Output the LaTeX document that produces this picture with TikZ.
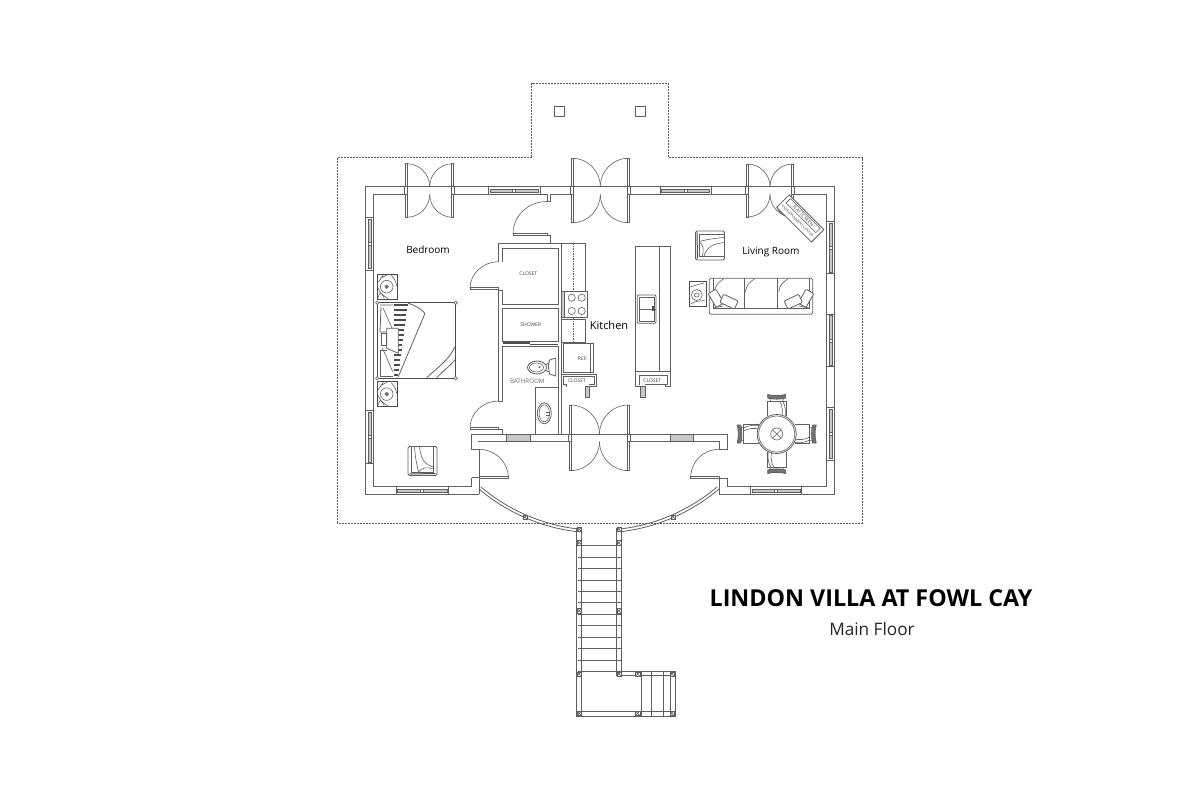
\documentclass[tikz,border=0pt]{standalone}
\usepackage{fontspec}
\setmainfont{Open Sans}
\usepackage{tikz}
\definecolor{wallGray}{RGB}{95,95,95}
\definecolor{glassGray}{RGB}{200,200,200}

\tikzset{
    plan/.style={draw=wallGray, line width=0.8pt},
    fine/.style={draw=wallGray, line width=0.6pt},
    heavy/.style={draw=black!70, line width=1.3pt},
    glass/.style={draw=wallGray, line width=0.6pt, fill=glassGray},
    terrace/.style={draw=wallGray, line width=0.8pt, dash pattern=on 2pt off 1pt},
    roomlabel/.style={font=\fontsize{10}{12}\selectfont, text=black, inner sep=0pt},
    tinylabel/.style={font=\fontsize{5}{6}\selectfont, text=black!75, inner sep=0pt},
    bathlabel/.style={font=\fontsize{6.2}{8}\selectfont, text=black!60, inner sep=0pt}
}

% leaf and swing, hinge at (x,y), r signed across the wall, s signed along it
\newcommand{\doorleaf}[4]{
    \draw[plan, fill=white] ({#1-0.9},#2) rectangle ({#1+0.9},{#2+#3});
    \draw[fine] (#1,{#2+#3}) .. controls ({#1+0.55*#4},{#2+#3}) and ({#1+#4},{#2+0.55*#3}) .. ({#1+#4},#2);
}
% pair of leaves on each side of a wall, from x1 to x2
\newcommand{\frenchdoor}[4]{
    \doorleaf{#1}{#3}{-#4}{(#2-#1)/2}
    \doorleaf{#2}{#3}{-#4}{(#1-#2)/2}
    \doorleaf{#1}{#3+7.6}{#4}{(#2-#1)/2}
    \doorleaf{#2}{#3+7.6}{#4}{(#1-#2)/2}
    \draw[plan] (#1,#3) -- (#2,#3);
    \draw[plan, fill=white] ({#1-2},#3) rectangle ({#1+0.9},{#3+7.6});
    \draw[plan, fill=white] ({#2-0.9},#3) rectangle ({#2+2},{#3+7.6});
}
\newcommand{\winH}[3]{
    \draw[plan, fill=white] (#1,#3) rectangle (#2,#3+7.6);
    \draw[glass] (#1+1.5,#3+2.2) rectangle (#2-1.5,#3+5.4);
    \draw[fine, fill=white] ({(#1+#2)/2-1.5},#3+2.2) rectangle ({(#1+#2)/2+1.5},#3+5.4);
}
\newcommand{\winV}[3]{
    \draw[plan, fill=white] (#1,#2) rectangle (#1+7.8,#3);
    \draw[glass] (#1+2.2,#2+1.5) rectangle (#1+5.6,#3-1.5);
    \draw[fine, fill=white] (#1+2.2,{(#2+#3)/2-1.5}) rectangle (#1+5.6,{(#2+#3)/2+1.5});
}
\newcommand{\railpost}[2]{
    \draw[fine, fill=white] (#1-2.2,#2-2.2) rectangle (#1+2.2,#2+2.2);
    \draw[fine] (#1-2.2,#2-2.2) -- (#1+2.2,#2+2.2) (#1-2.2,#2+2.2) -- (#1+2.2,#2-2.2);
}
\newcommand{\nightstand}[2]{
    \draw[heavy, line width=1pt] (#1,#2) rectangle (#1+20,#2+25);
    \draw[fine] (#1+9.4,#2+12.4) circle (6.3);
    \draw[fine, fill=black!50] (#1+9.4,#2+12.4) circle (1.8);
    \draw[fine] (#1+1,#2+23) .. controls (#1+3,#2+17) .. (#1+7,#2+24);
    \draw[fine] (#1+14,#2+1) .. controls (#1+18,#2+6) .. (#1+19.5,#2+12);
    \draw[fine] (#1+1,#2+14) .. controls (#1+3,#2+19) .. (#1+11,#2+24.5);
    \draw[fine] (#1+6,#2+0.5) -- (#1+1,#2+8) (#1+10,#2+0.5) -- (#1+3,#2+4);
}
\newcommand{\loungechair}[3]{
\begin{scope}[shift={(#1,#2)}, rotate=#3]
    \draw[plan, rounded corners=1.5pt] (-14.5,-14.5) rectangle (14.5,14.5);
    \draw[fine] (-11,-14.5) -- (-11,11) -- (11,11) -- (11,-14.5);
    \draw[fine] (-3,-14.5) .. controls (-2,-3) and (2,4) .. (11,6);
    \draw[fine] (-8,-14.5) .. controls (-7,0) and (-5,6) .. (-4,11);
    \draw[fine] (-4,11) .. controls (0,6) and (5,6) .. (11,8);
    \draw[heavy, line width=1pt] (-13,13) -- (13,12.5);
\end{scope}
}
\newcommand{\dinechair}[1]{
\begin{scope}[shift={(776.7,434)}, rotate=#1]
    \draw[plan] (-9.5,-18) -- (-9.5,-33) -- (9.5,-33) -- (9.5,-18);
    \draw[fine] (3,-33) .. controls (6,-28) and (6,-22) .. (5,-18);
    \draw[fine] (6,-33) .. controls (9,-28) and (9,-22) .. (8.5,-18);
    \draw[glass, line width=0.8pt, fill=black!55] (-9,-36) .. controls (-4,-34.5) and (4,-34.5) .. (9,-36) -- (9,-39.5) .. controls (4,-38) and (-4,-38) .. (-9,-39.5) -- cycle;
    \draw[fine] (-6,-33) -- (-7,-36) (6,-33) -- (7,-36);
\end{scope}
}

\begin{document}
\begin{tikzpicture}[x=1pt, y=-1pt]
\useasboundingbox (0,0) rectangle (1200,800);

% Terrace outline
\draw[terrace] (337.3,523.3) -- (337.3,157.7) -- (531.7,157.7) -- (531.7,83.3) -- (668.3,83.3) -- (668.3,157.7) -- (862.3,157.7) -- (862.3,523.3) -- cycle;
\draw[plan] (554.7,106) rectangle (564.7,116);
\draw[plan] (635.7,106) rectangle (645.7,116);

% Outer walls
\draw[plan] (479,494) -- (365.7,494) -- (365.7,186.7) -- (834,186.7) -- (834,494) -- (719,494);
\draw[plan] (471.7,477.7) -- (471.7,486.7) -- (373.7,486.7) -- (373.7,194.3) -- (405,194.3);
\draw[plan] (454,194.3) -- (547,194.3) -- (547,201.7) -- (550,201.7) -- (550,194.3) -- (571,194.3);
\draw[plan] (630,194.3) -- (746,194.3);
\draw[plan] (794,194.3) -- (826.7,194.3) -- (826.7,486.7) -- (727.3,486.7) -- (727.3,478.5) -- (719,478.5) -- (719,494);

% Porch walls
\draw[plan] (479,494) -- (479,449.3) -- (471.7,449.3) -- (471.7,434) -- (570,434);
\draw[plan] (471.7,477.7) -- (479,477.7);
\draw[plan] (478,441) -- (570,441);
\draw[plan] (630,434) -- (727.3,434) -- (727.3,449.3) -- (719,449.3) -- (719,441) -- (630,441);

% Interior walls
\draw[plan] (498.3,261.7) -- (498.3,243.3) -- (585,243.3) -- (585,291.7);
\draw[plan] (502.7,261.7) -- (502.7,248) -- (558.3,248) -- (558.3,304) -- (502.7,304) -- (502.7,290) -- (498.3,290) -- (498.3,401) -- (502.7,401) -- (502.7,346);
\draw[plan] (502.7,308.3) rectangle (558.3,341.7);
\draw[plan] (502.7,346) -- (558.3,346) -- (558.3,434);
\draw[plan] (561.7,243.3) -- (561.7,434);
\draw[plan] (550,243.3) -- (550,235) -- (546.7,235);
\draw[plan] (498.3,429.3) -- (502.7,429.3) -- (502.7,434);
\draw[heavy] (503,343) -- (530,343) (530,344.5) -- (558,344.5);

% Doors
\frenchdoor{406.7}{452.7}{186.7}{23}
\frenchdoor{572.3}{628.3}{186.7}{28.5}
\frenchdoor{747.3}{792.7}{186.7}{22.7}
\frenchdoor{570.7}{628.3}{434}{29}
\draw[fine] (547,201.5) .. controls (528,201.5) and (513,216) .. (513,234);
\draw[plan, fill=white] (513,233) rectangle (547,235);
\draw[plan, fill=white] (470,287.3) rectangle (498.3,289.3);
\draw[fine] (498.3,261.7) .. controls (483,261.7) and (470,274) .. (470,288);
\draw[plan, fill=white] (470,427.3) rectangle (498.3,429.3);
\draw[fine] (498.3,401) .. controls (483,401) and (470,413) .. (470,428);
\draw[plan, fill=white] (479,476.8) rectangle (508.3,478.3);
\draw[fine] (479,449.3) .. controls (495,449.3) and (508.3,462) .. (508.3,477.5);
\draw[plan, fill=white] (690.7,476.8) rectangle (719,478.3);
\draw[fine] (719,449.3) .. controls (703,449.3) and (690.7,462) .. (690.7,477.5);

% Windows
\winH{488.3}{540}{186.7}
\winH{660}{711}{186.7}
\winH{396}{448.3}{486.7}
\winH{750.7}{801.7}{486.7}
\winV{365.7}{217.3}{270}
\winV{365.7}{410.7}{463.3}
\winV{826.7}{221.7}{273.3}
\winV{826.7}{314}{366.7}
\winV{826.7}{407.3}{460}
\draw[glass] (506,434) rectangle (530,441);
\draw[glass] (670,434) rectangle (693.3,441);

% Kitchen
\draw[fine, dash pattern=on 1.5pt off 1pt] (573.3,243.3) -- (573.3,372);
\draw[plan, fill=white] (564,291.7) rectangle (587.3,317.3);
\draw[glass, line width=0pt] (561.7,291.7) rectangle (564,317.3);
\foreach \cx/\cy in {571.7/297.7, 581.7/297.7, 571.7/311, 581.7/311} {
    \draw[fine] (\cx,\cy) circle (3.6);
}
\draw[plan] (561.7,319.3) rectangle (585,342.7);
\draw[plan, fill=white] (563.3,343.3) rectangle (590.7,372.7);
\draw[fine] (590.7,343.3) -- (593.3,343.3) -- (593.3,372.7) -- (590.7,372.7);
\draw[plan] (561.7,374.3) -- (596.7,374.3) -- (596.7,386.7) -- (589.3,386.7);
\draw[fine] (563.3,376) -- (594.3,376) -- (594.3,384) -- (589,384);
\draw[fine] (563.3,376) -- (563.3,384) -- (566,384) -- (566,386.7);
\draw[plan, fill=glassGray] (585,386.7) rectangle (589.3,397);
\node[tinylabel] (refLabel) at (582.7,359) {REF.};
\node[tinylabel] (closetKitchen) at (577,380.7) {CLOSET};
\node[roomlabel, font=\fontsize{11}{12}\selectfont] (kitchenLabel) at (609,325) {Kitchen};

% Bathroom
\draw[plan] (537,367.5) ellipse (9.5 and 6.5);
\draw[fine] (536.5,367.5) ellipse (7 and 4.5);
\draw[fine] (539.5,367) circle (0.8);
\draw[plan] (546,364.5) -- (549,363);
\draw[plan] (546,370.5) -- (549,372);
\draw[plan] (555.7,358) -- (549.5,360) -- (548.3,366) -- (549.5,374) -- (555.7,376) -- cycle;
\draw[plan] (535,434) -- (535,387.7) -- (558.3,387.7);
\draw[plan] (544.3,413.3) ellipse (7 and 10.5);
\draw[fine] (544.3,413.3) ellipse (5.2 and 8.5);
\draw[fine] (549.5,412) -- (546,412) (549.5,415) -- (546,415);
\node[bathlabel] (bathLabel) at (527.3,381) {BATHROOM};
\node[tinylabel] (closetBed) at (528.3,273.3) {CLOSET};
\node[tinylabel] (showerLabel) at (530.7,325) {SHOWER};

% Island
\draw[plan] (635.3,371.7) -- (635.3,246.7) -- (670.7,246.7) -- (670.7,371.7);
\draw[plan] (659,246.7) -- (659,371.7);
\draw[plan, rounded corners=1pt] (637.3,295) rectangle (656,323.3);
\draw[fine] (639,297) rectangle (654.5,321.5);
\draw[plan] (639,309) -- (656,309);
\draw[heavy] (653,306) -- (653,311);
\draw[plan] (635.3,371.7) -- (635.3,386.7) -- (640.7,386.7);
\draw[plan] (670.7,371.7) -- (670.7,386.7) -- (665.7,386.7) -- (665.7,384.5);
\draw[plan] (635.3,371.7) -- (670.7,371.7);
\draw[fine] (639,384.5) -- (639,375) -- (667.3,375) -- (667.3,384.5) -- (645,384.5);
\draw[plan, fill=glassGray] (640.7,386.7) rectangle (645,397);
\node[tinylabel] (closetIsland) at (652.3,380.7) {CLOSET};

% Bed
\draw[heavy] (377.3,302.7) rectangle (455.7,378.3);
\foreach \cx/\cy in {377.3/302.7, 455.7/302.7, 377.3/378.3, 455.7/378.3} {
    \draw[fine, fill=white] (\cx,\cy) circle (1.7);
}
\foreach \sy in {305,310,...,375} {
    \draw[heavy, line width=1.5pt] (393.5,\sy) -- (408-\sy*0.136+41.2,\sy);
}
\draw[plan] (408.3,303.3) .. controls (414,305) and (420,308) .. (425,313.3) -- (398.3,376.7);
\draw[plan] (426.7,377.7) .. controls (437,368) and (449,360) .. (455,346.7);
\draw[plan] (436.7,377.7) .. controls (444,370) and (450,366) .. (455,360);
\draw[plan] (380,305) -- (393,305) (381,307) -- (380,332) -- (388,332);
\draw[fine] (383,308) .. controls (386,314) and (389,322) .. (393,330);
\draw[plan] (380,376) -- (380,350) -- (387,350);
\draw[plan] (380,376) -- (393,376);
\draw[fine] (382,348) .. controls (386,355) and (389,364) .. (393,372);
\draw[plan, fill=white] (386.7,328.3) -- (398.3,328.3) -- (398.3,353.3) -- (386.7,348.3) -- cycle;
\draw[fine] (381,333) rectangle (386.7,345);
\nightstand{377.3}{274.3}
\nightstand{377.3}{381.7}
\loungechair{422.5}{461}{0}
\node[roomlabel] (bedroomLabel) at (428,250) {Bedroom};

% Living room
\loungechair{710}{245.5}{-90}
\draw[plan, rounded corners=1.5pt] (709.3,278.3) rectangle (812.7,314.3);
\draw[fine] (713,278.3) -- (713,308.3) -- (809,308.3) -- (809,278.3);
\draw[plan] (744,278.3) -- (744,308.3);
\draw[plan] (777.3,278.3) -- (777.3,308.3);
\foreach \bx in {713,744,777.3} {
    \draw[fine] (\bx+1.5,292) .. controls (\bx+2,285) and (\bx+6,282) .. (\bx+11,278.5);
}
\draw[fine] (713,308) -- (723,306) (809,308) -- (799,306);
\foreach \px/\py/\pa in {716/298.3/-60, 729/301.7/-25, 806/298.3/60, 793.3/301.7/25} {
    \draw[plan, fill=white, rounded corners=1pt, rotate around={\pa:(\px,\py)}] (\px-8,\py-4.5) rectangle (\px+8,\py+4.5);
}
\draw[heavy, line width=1pt] (689.3,281.7) rectangle (706,306.7);
\draw[fine] (696.7,295) circle (5.5);
\draw[fine] (696.7,295) ellipse (2.5 and 2);
\draw[fine] (690,287) .. controls (694,286) and (699,284) .. (704,283);
\draw[fine] (691,304) .. controls (695,300) and (700,302) .. (705,300);
\node[roomlabel] (livingLabel) at (771,252) {Living Room};

% Entertainment unit
\begin{scope}[shift={(800.3,218.5)}, rotate=-45]
    \draw[plan, fill=white] (-24.5,-8.8) rectangle (24.5,8.8);
    \draw[fine] (-21,-7) rectangle (21,-1);
    \node[font=\fontsize{4.5}{6}\selectfont, text=black!75, inner sep=0pt, rotate=-45] (tvLabel) at (0,-4) {FLAT SCREEN};
    \node[font=\fontsize{3.6}{6}\selectfont, text=black!75, inner sep=0pt, rotate=-45] (unitLabel) at (0,3.8) {ENTERTAINMENT CENTER};
\end{scope}
\draw[fine] (776.7,206.7) .. controls (779,212) and (781,214) .. (785,216);

% Dining table
\foreach \ang in {0,90,180,270} {
    \dinechair{\ang}
}
\draw[plan, fill=white] (776.7,434) circle (19.5);
\draw[fine] (776.7,434) circle (18);
\draw[fine] (776.7,434) circle (6);
\draw[fine] (772.5,429.8) -- (780.9,438.2) (772.5,438.2) -- (780.9,429.8);

% Curved front wall
\coordinate (bayCentre) at (599,347.4);
\draw[plan] (bayCentre) ++(130.3:185.6) arc[start angle=130.3, end angle=96.5, radius=185.6];
\draw[plan] (bayCentre) ++(130.3:182.8) arc[start angle=130.3, end angle=96.5, radius=182.8];
\draw[plan] (bayCentre) ++(83.5:185.6) arc[start angle=83.5, end angle=49.7, radius=185.6];
\draw[plan] (bayCentre) ++(83.5:182.8) arc[start angle=83.5, end angle=49.7, radius=182.8];

% Stairs
\draw[plan] (576.7,528) -- (576.7,716.7) -- (675,716.7) -- (675,671) -- (621.7,671) -- (621.7,528);
\draw[plan] (581.7,528) -- (581.7,711.3) -- (670,711.3) -- (670,675.7) -- (621.7,675.7);
\draw[plan] (616.7,528) -- (616.7,675.7) -- (621.7,675.7);
\foreach \ty in {545.7,557,568.7,580,591.3,602.7,614,625.7,637,648.3,660,671.7} {
    \draw[plan] (578,\ty) -- (620.5,\ty);
}
\foreach \tx in {641,651.7,663.3} {
    \draw[plan] (\tx,671) -- (\tx,716.7);
}
\foreach \px/\py in {525/517, 673.3/517, 579.3/529.3, 619/529.3, 579.3/542.7, 619/542.7, 579.3/610.7, 619/610.7, 579.3/674, 619/674, 637.7/674, 672/674, 579.3/713.3, 637.7/713.3, 672/713.3} {
    \railpost{\px}{\py}
}

% Title
\node[font=\fontsize{23.3}{30}\selectfont\bfseries, text=black, inner sep=0pt] (titleLabel) at (871,598) {LINDON VILLA AT FOWL CAY};
\node[font=\fontsize{17.2}{20}\selectfont, text=black!85, inner sep=0pt] (floorLabel) at (872,629) {Main Floor};

\end{tikzpicture}
\end{document}
